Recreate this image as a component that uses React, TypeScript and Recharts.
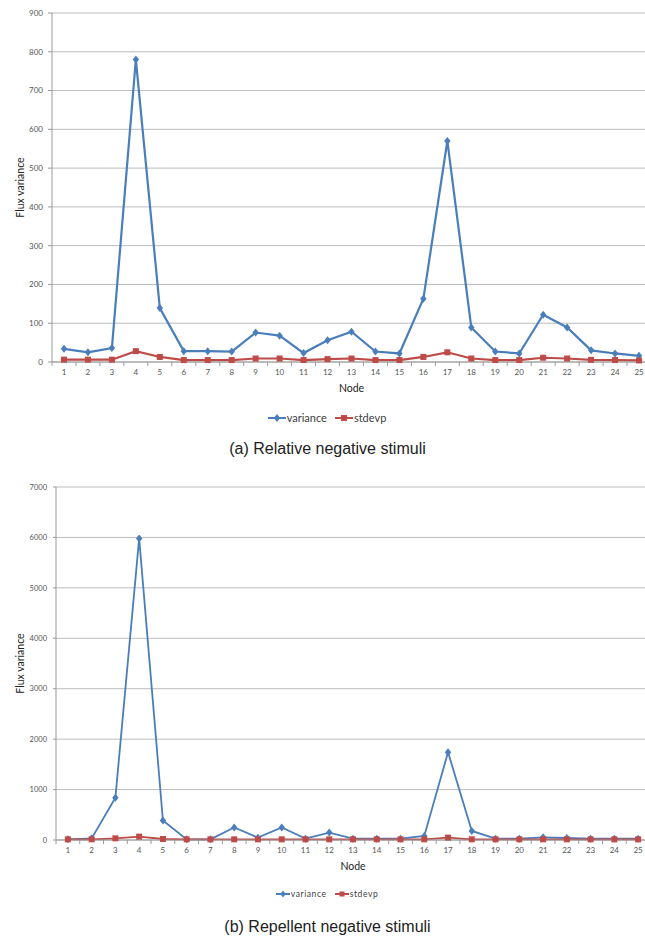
import React from 'react';
import { LineChart, Line, XAxis, YAxis, CartesianGrid, Legend } from 'recharts';

const NODES = [1, 2, 3, 4, 5, 6, 7, 8, 9, 10, 11, 12, 13, 14, 15, 16, 17, 18, 19, 20, 21, 22, 23, 24, 25];

// (a) relative negative stimuli
const REL_VARIANCE = [34, 25, 36, 780, 139, 28, 28, 27, 76, 68, 23, 56, 78, 27, 22, 163, 570, 89, 27, 22, 122, 89, 30, 22, 16];
const REL_STDEVP = [6, 6, 6, 28, 13, 5, 5, 5, 9, 9, 5, 7.5, 9, 5, 5, 13, 25, 9, 5, 5, 11, 9, 5.5, 5, 4];
const REL_TICKS = [0, 100, 200, 300, 400, 500, 600, 700, 800, 900];

// (b) repellent negative stimuli
const REP_VARIANCE = [13, 33, 840, 5980, 387, 13, 13, 247, 47, 247, 27, 147, 27, 27, 27, 80, 1740, 180, 27, 27, 53, 40, 27, 27, 27];
const REP_STDEVP = [13, 13, 33, 67, 20, 13, 13, 13, 13, 13, 13, 13, 13, 13, 13, 13, 47, 13, 13, 13, 13, 13, 13, 13, 13];
const REP_TICKS = [0, 1000, 2000, 3000, 4000, 5000, 6000, 7000];

const BLUE = '#4a7ebb';
const RED = '#be4b48';
const FONT = 'Lato, "Open Sans", sans-serif';

const toRows = (variance: number[], stdevp: number[]) =>
  NODES.map((n, i) => ({ node: n, variance: variance[i], stdevp: stdevp[i] }));

const Diamond = (props: any) => {
  const { cx, cy, r, fill } = props;
  if (cx == null || cy == null) return null;
  return <path d={`M${cx},${cy - r}L${cx + r * 0.8},${cy}L${cx},${cy + r}L${cx - r * 0.8},${cy}Z`} fill={fill} />;
};

const Square = (props: any) => {
  const { cx, cy, r, fill } = props;
  if (cx == null || cy == null) return null;
  return <rect x={cx - r} y={cy - r} width={r * 2} height={r * 2} fill={fill} />;
};

// Excel style: labels centred in the band, tick marks on the band edges
const makeXTick = (half: number, fontSize: number) => (props: any) => {
  const { x, y, payload, index } = props;
  const top = y - 7;
  return (
    <g>
      <line x1={x - half} x2={x - half} y1={top} y2={top + 4} stroke="#999" />
      {index === NODES.length - 1 && <line x1={x + half} x2={x + half} y1={top} y2={top + 4} stroke="#999" />}
      <text x={x} y={y} dy="0.71em" textAnchor="middle" fontSize={fontSize} fill="#555" fontFamily={FONT}>
        {payload.value}
      </text>
    </g>
  );
};

type LegendSpec = { fontSize: number; lineW: number; r: number; gap: number; spacing: number };

const LegendItems = ({ fontSize, lineW, r, gap, spacing }: LegendSpec) => {
  const item = (name: string, color: string, square: boolean) => (
    <span style={{ display: 'inline-flex', alignItems: 'center', marginRight: gap }}>
      <svg width={lineW} height={12} style={{ marginRight: 1 }}>
        <line x1={0} x2={lineW} y1={6} y2={6} stroke={color} strokeWidth={2} />
        {square ? <Square cx={lineW / 2} cy={6} r={r} fill={color} /> : <Diamond cx={lineW / 2} cy={6} r={r + 1} fill={color} />}
      </svg>
      <span style={{ letterSpacing: spacing }}>{name}</span>
    </span>
  );
  return (
    <div style={{ display: 'flex', justifyContent: 'center', fontFamily: FONT, fontSize, color: '#404040' }}>
      {item('variance', BLUE, false)}
      {item('stdevp', RED, true)}
    </div>
  );
};

type PanelProps = {
  top: number;
  width: number;
  height: number;
  margin: { top: number; right: number; bottom: number; left: number };
  yWidth: number;
  yTickSize: number;
  yTickMargin: number;
  yTickFont: number;
  yLabelX: number;
  ticks: number[];
  variance: number[];
  stdevp: number[];
  tickFont: number;
  labelFont: number;
  legend: LegendSpec;
  legendTop: number;
  strokeW: number;
  dotR: number;
  caption: string;
  captionTop: number;
};

const Panel = (p: PanelProps) => {
  const plotW = p.width - p.margin.left - p.margin.right - p.yWidth;
  const half = plotW / NODES.length / 2;
  const data = toRows(p.variance, p.stdevp);
  return (
    <>
      <div style={{ position: 'absolute', left: 0, top: p.top }}>
        <LineChart width={p.width} height={p.height} data={data} margin={p.margin}>
          <CartesianGrid vertical={false} stroke="#bcbcbc" />
          <XAxis
            dataKey="node"
            height={18}
            padding={{ left: half, right: half }}
            axisLine={{ stroke: '#999' }}
            tickLine={false}
            tickSize={4}
            tickMargin={3}
            interval={0}
            tick={makeXTick(half, p.tickFont)}
            label={{
              content: (lp: any) => (
                <text x={lp.viewBox.x + lp.viewBox.width / 2} y={lp.viewBox.y + 30} textAnchor="middle" fontSize={p.labelFont} fill="#222" fontFamily={FONT}>
                  Node
                </text>
              ),
            }}
          />
          <YAxis
            width={p.yWidth}
            domain={[p.ticks[0], p.ticks[p.ticks.length - 1]]}
            ticks={p.ticks}
            interval={0}
            axisLine={{ stroke: '#999' }}
            tickLine={{ stroke: '#999' }}
            tickSize={p.yTickSize}
            tickMargin={p.yTickMargin}
            tick={{ fontSize: p.yTickFont, fill: '#555', fontFamily: FONT }}
            label={{
              content: (lp: any) => {
                const cx = lp.viewBox.x + p.yLabelX;
                const cy = lp.viewBox.y + lp.viewBox.height / 2;
                return (
                  <text x={cx} y={cy} transform={`rotate(-90, ${cx}, ${cy})`} textAnchor="middle" dy="0.35em" fontSize={p.labelFont} fill="#222" fontFamily={FONT}>
                    Flux variance
                  </text>
                );
              },
            }}
          />
          <Legend
            layout="horizontal"
            verticalAlign="middle"
            align="center"
            wrapperStyle={{ top: p.legendTop, left: 0, width: 662 }}
            content={() => <LegendItems {...p.legend} />}
          />
          <Line
            type="linear"
            dataKey="variance"
            stroke={BLUE}
            strokeWidth={p.strokeW}
            dot={(d: any) => <Diamond key={`v-${d.index}`} cx={d.cx} cy={d.cy} r={p.dotR + 1} fill={BLUE} />}
            activeDot={false}
            isAnimationActive={false}
          />
          <Line
            type="linear"
            dataKey="stdevp"
            stroke={RED}
            strokeWidth={p.strokeW}
            dot={(d: any) => <Square key={`s-${d.index}`} cx={d.cx} cy={d.cy} r={p.dotR} fill={RED} />}
            activeDot={false}
            isAnimationActive={false}
          />
        </LineChart>
      </div>
      <div
        style={{
          position: 'absolute',
          left: 5,
          width: 645,
          top: p.captionTop,
          textAlign: 'center',
          fontFamily: '"Liberation Sans", Arial, sans-serif',
          fontSize: 16,
          color: '#222',
        }}
      >
        {p.caption}
      </div>
    </>
  );
};

export default function App() {
  return (
    <div style={{ position: 'absolute', left: 0, top: 0, width: 645, height: 938, overflow: 'hidden', background: '#fff' }}>
      <Panel
        top={0}
        width={660}
        height={430}
        margin={{ top: 13, right: 9, bottom: 50, left: 8 }}
        yWidth={44}
        yTickSize={4}
        yTickMargin={5}
        yTickFont={8}
        yLabelX={12}
        ticks={REL_TICKS}
        variance={REL_VARIANCE}
        stdevp={REL_STDEVP}
        tickFont={8}
        labelFont={10.5}
        legend={{ fontSize: 11, lineW: 18, r: 3, gap: 8, spacing: 0 }}
        legendTop={411}
        strokeW={2.2}
        dotR={3}
        caption="(a) Relative negative stimuli"
        captionTop={440}
      />
      <Panel
        top={470}
        width={660}
        height={440}
        margin={{ top: 17, right: 10, bottom: 52, left: 10 }}
        yWidth={46}
        yTickSize={3}
        yTickMargin={6}
        yTickFont={7.5}
        yLabelX={10}
        ticks={REP_TICKS}
        variance={REP_VARIANCE}
        stdevp={REP_STDEVP}
        tickFont={8}
        labelFont={10.5}
        legend={{ fontSize: 8.5, lineW: 14, r: 2.5, gap: 8, spacing: 0.6 }}
        legendTop={418}
        strokeW={1.8}
        dotR={3}
        caption="(b) Repellent negative stimuli"
        captionTop={918}
      />
    </div>
  );
}
